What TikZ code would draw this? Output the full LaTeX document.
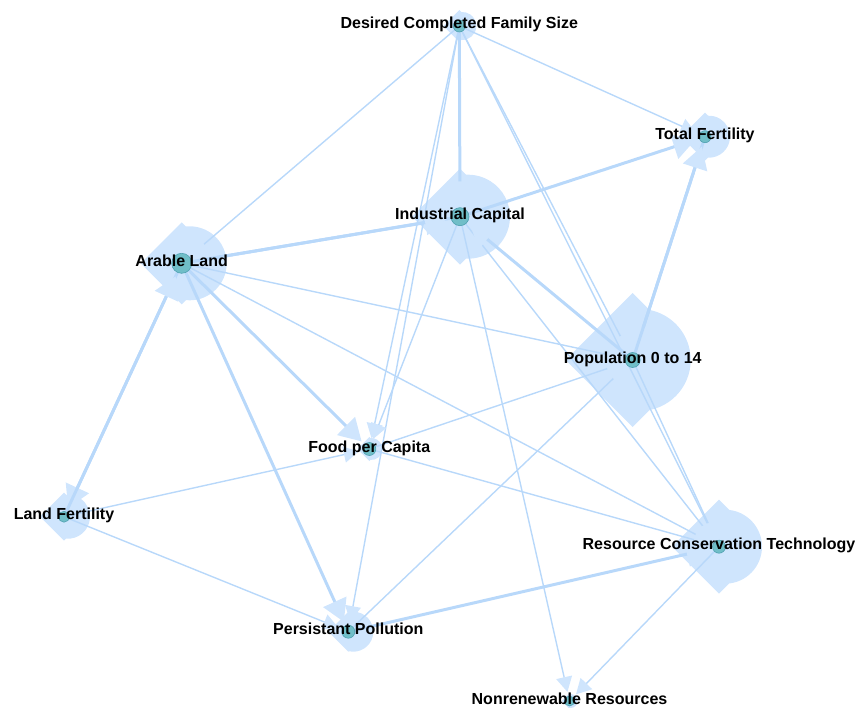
\documentclass[tikz,border=0pt]{standalone}
\usepackage{fontspec}
\setmainfont{Liberation Sans}
\usetikzlibrary{arrows.meta}
\pgfdeclarelayer{halos}
\pgfdeclarelayer{links}
\pgfsetlayers{halos,links,main}

\definecolor{halofill}{RGB}{207,229,253}
\definecolor{linkblue}{RGB}{184,216,250}
\definecolor{dotfill}{RGB}{112,190,200}
\definecolor{dotline}{RGB}{78,160,176}

\tikzset{
  dot/.style={circle, fill=dotfill, draw=dotline, line width=0.6pt, inner sep=0pt},
  lbl/.style={font=\fontsize{16}{18}\selectfont\bfseries, anchor=base, inner sep=0pt},
  link/.style={draw=linkblue, shorten >=4pt},
  thinlink/.style={link, line width=1.4pt, -{Triangle[length=15pt,width=16pt,color=halofill]}},
  thicklink/.style={link, line width=3pt, -{Triangle[length=22pt,width=25pt,color=halofill]}},
}

% halo behind a node: left half of a diamond joined to a circle on the right
% #1 node, #2 diamond half-diagonal, #3 circle offset to the right, #4 circle radius
\newcommand{\halo}[4]{%
  \pgfmathsetmacro\hT{((#3+#2) - sqrt((#3+#2)^2 - 2*(#3*#3+#2*#2-#4*#4)))/2}%
  \pgfmathsetmacro\hY{\hT-#2}%
  \pgfmathsetmacro\hA{atan2(#2-\hT,\hT-#3)}%
  \fill[halofill] ([shift={(0pt,#2pt)}]#1.center)
    -- ([shift={(-#2pt,0pt)}]#1.center)
    -- ([shift={(0pt,-#2pt)}]#1.center)
    -- ([shift={(\hT pt,\hY pt)}]#1.center)
    arc[start angle=-\hA, end angle=\hA, radius=#4pt] -- cycle;
}

\begin{document}
\begin{tikzpicture}[x=1pt, y=-1pt]
\useasboundingbox (0,0) rectangle (858,708);

% nodes
\node[dot, minimum size=12pt] (dcfs) at (459.3,26) {};
\node[dot, minimum size=12pt] (tf)   at (705,136.7) {};
\node[dot, minimum size=18pt] (ic)   at (460,216.7) {};
\node[dot, minimum size=20pt] (al)   at (181.7,263.3) {};
\node[dot, minimum size=15pt] (p)    at (632.7,360) {};
\node[dot, minimum size=13pt] (fpc)  at (369.3,449) {};
\node[dot, minimum size=11pt] (lf)   at (64,516.7) {};
\node[dot, minimum size=13pt] (rct)  at (719,546.7) {};
\node[dot, minimum size=13pt] (pp)   at (348.3,631.7) {};
\node[dot, minimum size=10pt] (nr)   at (569.5,701) {};

% labels
\node[lbl] (dcfs-t) at ([yshift=-3pt]dcfs.center) {Desired Completed Family Size};
\node[lbl] (tf-t)   at ([yshift=-3pt]tf.center)   {Total Fertility};
\node[lbl] (ic-t)   at ([yshift=-3pt]ic.center)   {Industrial Capital};
\node[lbl] (al-t)   at ([yshift=-3pt]al.center)   {Arable Land};
\node[lbl] (p-t)    at ([yshift=-3pt]p.center)    {Population 0 to 14};
\node[lbl] (fpc-t)  at ([yshift=-3pt]fpc.center)  {Food per Capita};
\node[lbl] (lf-t)   at ([yshift=-3pt]lf.center)   {Land Fertility};
\node[lbl] (rct-t)  at ([yshift=-3pt]rct.center)  {Resource Conservation Technology};
\node[lbl] (pp-t)   at ([yshift=-3pt]pp.center)   {Persistant Pollution};
\node[lbl] (nr-t)   at ([yshift=-3pt]nr.center)   {Nonrenewable Resources};

% halos
\begin{pgfonlayer}{halos}
  \halo{p}{67}{7}{51}
  \halo{ic}{48}{8}{42}
  \halo{al}{41}{8}{37}
  \halo{rct}{47}{6}{37}
  \halo{lf}{24}{4}{22}
  \halo{tf}{24}{4}{21}
  \halo{pp}{20}{5}{20}
  \halo{fpc}{12}{2}{11}
  \halo{dcfs}{16}{3}{14}
  \halo{nr}{8}{1}{7}
\end{pgfonlayer}

% connectors
\begin{pgfonlayer}{links}
  \draw[thinlink] (dcfs) -- (al);
  \draw[thinlink] (dcfs) -- (tf);
  \draw[thinlink] (dcfs) -- (fpc);
  \draw[thinlink] (dcfs) -- (pp);
  \draw[thinlink] (dcfs) -- (p);
  \draw[thinlink] (dcfs) -- (rct);
  \draw[thinlink] (al) -- (p);
  \draw[thinlink] (al) -- (rct);
  \draw[thinlink] (lf) -- (fpc);
  \draw[thinlink] (lf) -- (pp);
  \draw[thinlink] (fpc) -- (p);
  \draw[thinlink] (fpc) -- (rct);
  \draw[thinlink] (ic) -- (fpc);
  \draw[thinlink] (ic) -- (rct);
  \draw[thinlink] (ic) -- (nr);
  \draw[thinlink] (p) -- (rct);
  \draw[thinlink] (pp) -- (p);
  \draw[thinlink] (rct) -- (nr);

  \draw[thicklink] (dcfs) -- (ic);
  \draw[thicklink] (ic) -- (al);
  \draw[thicklink] (al) -- (ic);
  \draw[thicklink] (ic) -- (tf);
  \draw[thicklink] (tf) -- (p);
  \draw[thicklink] (p) -- (tf);
  \draw[thicklink] (p) -- (ic);
  \draw[thicklink] (al) -- (fpc);
  \draw[thicklink] (al) -- (pp);
  \draw[thicklink] (al) -- (lf);
  \draw[thicklink] (lf) -- (al);
  \draw[thicklink] (pp) -- (rct);
\end{pgfonlayer}
\end{tikzpicture}
\end{document}
